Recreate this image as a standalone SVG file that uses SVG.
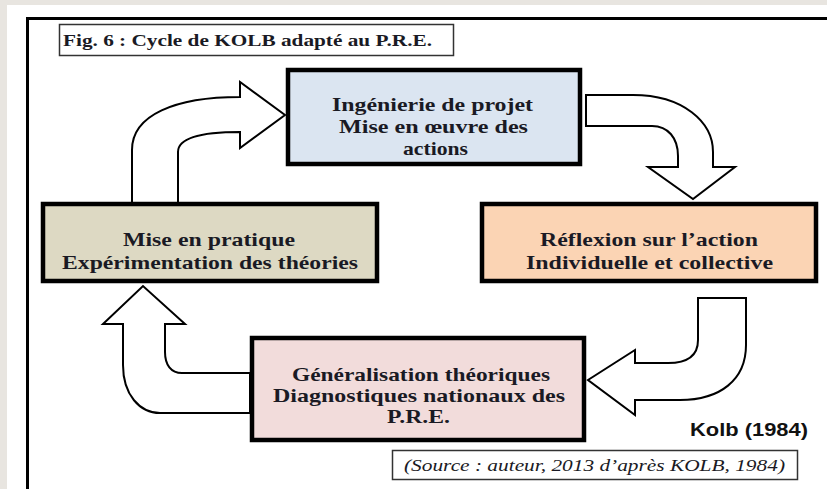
<svg xmlns="http://www.w3.org/2000/svg" width="827" height="489" viewBox="0 0 827 489">
<style>
.node{stroke:#000;stroke-width:4.5}
.t{font-family:"Liberation Serif","Times New Roman",serif;font-weight:bold;font-size:19.5px;fill:#1a1a24}
.arrow{fill:#fff;stroke:#000;stroke-width:2;stroke-linejoin:miter}
.thin{fill:#fff;stroke:#333;stroke-width:1.5}
</style>
<rect x="0" y="0" width="827" height="489" fill="#e8e5e0"/>
<rect x="7" y="5" width="820" height="484" fill="#fff"/>
<path d="M27.5,489 L27.5,18.5 L827,18.5" fill="none" stroke="#000" stroke-width="3"/>
<g id="title">
<rect class="thin" x="59.5" y="24.5" width="394" height="31"/>
<text class="t" style="font-size:17px" x="63" y="46" textLength="369" lengthAdjust="spacingAndGlyphs">Fig. 6 : Cycle de KOLB adapté au P.R.E.</text>
</g>
<g id="connectors">
<path class="arrow" d="M132,204 L132,150 C132,115 175,97 240,97 L240,82 L285,115 L240,148 L240,132 C200,132 178,138 178,152 L178,204 Z"/>
<path class="arrow" d="M586,95 L633,95 C683,95 713,122 713,152 L713,167 L735,167 L693,199 L648,167 L678,167 L678,156 C678,138 668,126 652,126 L586,126 Z"/>
<path class="arrow" d="M698,298 L746,298 L746,345 C746,380 720,400 680,400 L635,400 L635,415 L588,380 L635,350 L635,363 L668,363 C688,363 698,355 698,340 Z"/>
<path class="arrow" d="M250,373 L182,373 C171,373 165,365 165,352 L165,324 L185,324 L143,286 L103,324 L123,324 L123,365 C123,395 140,413 160,413 L250,413 Z"/>
</g>
<g id="node-ingenierie">
<rect class="node" x="288" y="70" width="292" height="94" fill="#dbe5f1"/>
<text class="t" x="332" y="111" textLength="201" lengthAdjust="spacingAndGlyphs">Ingénierie de projet</text>
<text class="t" x="339" y="133" textLength="189" lengthAdjust="spacingAndGlyphs">Mise en œuvre des</text>
<text class="t" x="403" y="155" textLength="65" lengthAdjust="spacingAndGlyphs">actions</text>
</g>
<g id="node-reflexion">
<rect class="node" x="482" y="204" width="334" height="77" fill="#fbd4b4"/>
<text class="t" x="540" y="246" textLength="218" lengthAdjust="spacingAndGlyphs">Réflexion sur l’action</text>
<text class="t" x="526" y="269" textLength="247" lengthAdjust="spacingAndGlyphs">Individuelle et collective</text>
</g>
<g id="node-generalisation">
<rect class="node" x="252" y="338" width="332" height="102" fill="#f2dcdb"/>
<text class="t" x="292" y="381" textLength="258" lengthAdjust="spacingAndGlyphs">Généralisation théoriques</text>
<text class="t" x="273" y="402" textLength="292" lengthAdjust="spacingAndGlyphs">Diagnostiques nationaux des</text>
<text class="t" x="387" y="423" textLength="63" lengthAdjust="spacingAndGlyphs">P.R.E.</text>
</g>
<g id="node-pratique">
<rect class="node" x="43" y="204" width="334" height="77" fill="#ddd9c3"/>
<text class="t" x="123" y="246" textLength="172" lengthAdjust="spacingAndGlyphs">Mise en pratique</text>
<text class="t" x="62" y="269" textLength="296" lengthAdjust="spacingAndGlyphs">Expérimentation des théories</text>
</g>
<g id="kolb">
<text x="690" y="436" textLength="118" lengthAdjust="spacingAndGlyphs" style="font-family:'Liberation Sans',Arial,sans-serif;font-weight:bold;font-size:18px;fill:#111">Kolb (1984)</text>
</g>
<g id="source">
<rect class="thin" x="392.5" y="450.5" width="405" height="29"/>
<text x="404" y="471" textLength="381" lengthAdjust="spacingAndGlyphs" style="font-family:'Liberation Serif','Times New Roman',serif;font-style:italic;font-size:16px;fill:#1a1a24">(Source : auteur, 2013 d’après KOLB, 1984)</text>
</g>
</svg>
